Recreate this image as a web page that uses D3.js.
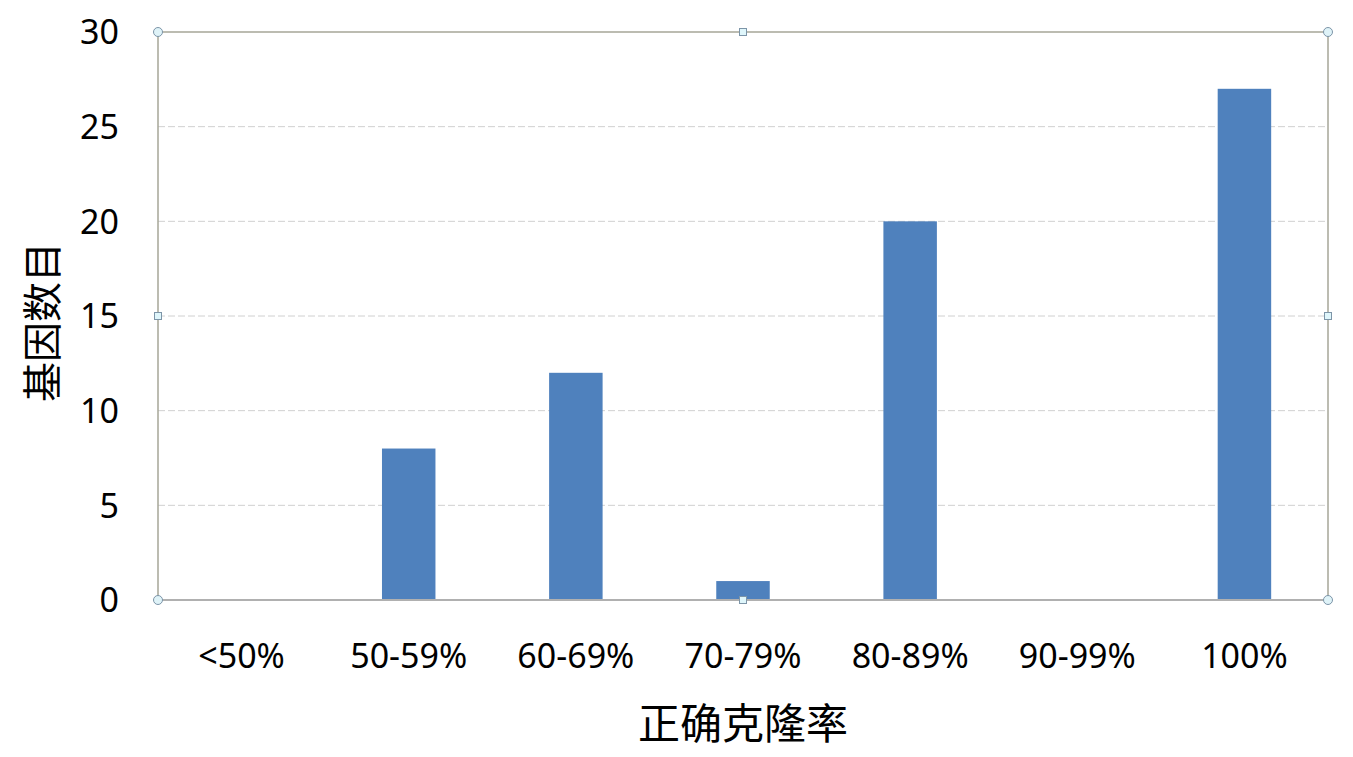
<!DOCTYPE html>
<html><head><meta charset="utf-8">
<script src="https://cdn.jsdelivr.net/npm/d3@7/dist/d3.min.js"></script>
<style>body{margin:0;background:#fff;} svg{display:block;}</style>
</head><body>
<svg id="c" width="1353" height="757"></svg>
<script>
const categories = ["<50%", "50-59%", "60-69%", "70-79%", "80-89%", "90-99%", "100%"];
const values = [0, 8, 12, 1, 20, 0, 27];
const yTicks = [0, 5, 10, 15, 20, 25, 30];
const xTitle = "正确克隆率";
const yTitle = "基因数目";

const svg = d3.select("#c");
const L = 158, R = 1328, T = 32, B = 600;
const x = d3.scaleBand().domain(categories).range([L, R]).paddingInner(0.68).paddingOuter(0.34);
const y = d3.scaleLinear().domain([0, 30]).range([B, T]);

// gridlines
svg.append("g").selectAll("line").data(yTicks.filter(d => d > 0 && d < 30)).join("line")
  .attr("x1", L).attr("x2", R).attr("y1", d => y(d)).attr("y2", d => y(d))
  .attr("stroke", "#d0d0d0").attr("stroke-width", 1).attr("stroke-dasharray", "7,3");

// bars
svg.append("g").selectAll("rect").data(values).join("rect")
  .attr("x", (d, i) => x(categories[i]))
  .attr("width", x.bandwidth())
  .attr("y", d => y(d))
  .attr("height", d => B - y(d))
  .attr("fill", "#4f81bd");

// frame (selection border)
svg.append("rect").attr("x", L).attr("y", T).attr("width", R - L).attr("height", B - T)
  .attr("fill", "none").attr("stroke", "#a6a698").attr("stroke-width", 1.5);
// bottom axis line
svg.append("line").attr("x1", L).attr("x2", R).attr("y1", B).attr("y2", B)
  .attr("stroke", "#b0b0b0").attr("stroke-width", 2);

// y axis labels
const yAxis = d3.axisLeft(y).tickValues(yTicks).tickSize(0).tickPadding(0);
const gy = svg.append("g").attr("transform", `translate(${L - 39},0)`).call(yAxis);
gy.select(".domain").remove();
gy.selectAll("text").attr("font-family", "'Noto Sans', sans-serif").attr("font-size", 34).attr("fill", "#000").attr("dy", "0.35em");

// x axis labels
const xAxis = d3.axisBottom(x).tickSize(0).tickPadding(0);
const gx = svg.append("g").attr("transform", `translate(0,${B + 56})`).call(xAxis);
gx.select(".domain").remove();
gx.selectAll("text").attr("font-family", "'Noto Sans', sans-serif").attr("font-size", 34).attr("fill", "#000").attr("dy", "0.35em");

// titles
svg.append("text").attr("x", (L + R) / 2 + 0).attr("y", 720).attr("text-anchor", "middle")
  .attr("dominant-baseline", "central")
  .attr("font-family", "'Noto Sans CJK SC', sans-serif").attr("font-size", 42).attr("fill", "#000").text(xTitle);
svg.append("text").attr("transform", `translate(40,${(T + B) / 2 + 6}) rotate(-90)`).attr("text-anchor", "middle")
  .attr("dominant-baseline", "central")
  .attr("font-family", "'Noto Sans CJK SC', sans-serif").attr("font-size", 40).attr("fill", "#000").text(yTitle);

// selection handles
const mx = (L + R) / 2, my = (T + B) / 2;
const corners = [[L, T], [R, T], [L, B], [R, B]];
const mids = [[mx, T], [mx, B], [L, my], [R, my]];
svg.append("g").selectAll("circle").data(corners).join("circle")
  .attr("cx", d => d[0]).attr("cy", d => d[1]).attr("r", 4.5)
  .attr("fill", "#dff3f8").attr("stroke", "#7d95a8").attr("stroke-width", 1);
svg.append("g").selectAll("rect").data(mids).join("rect")
  .attr("x", d => d[0] - 3.5).attr("y", d => d[1] - 3.5).attr("width", 7).attr("height", 7)
  .attr("fill", "#dff6fb").attr("stroke", "#7d95a8").attr("stroke-width", 1);
</script>
</body></html>
